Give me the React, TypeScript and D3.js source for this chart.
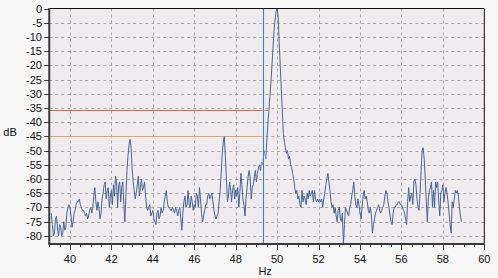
import React from "react";
import * as d3 from "d3";

// Spectrum samples, 0.05 Hz apart, split in segments (start frequency + dB values)
const seg1Start = 39.1;
const seg1 = [
  -72, -76, -80, -79, -74, -73, -78, -80, -76, -77, -80, -79, -75, -78, -77, -72, -70, -69, -70,
  -73, -77, -75, -72, -71, -69, -68, -68, -67, -69, -70, -71, -71, -72, -73, -72, -74, -73, -71, -70,
  -72, -70, -66, -63, -68, -71, -68, -70, -74, -72, -67, -65, -62, -61, -67, -64, -63, -70, -66, -64,
  -69, -62, -66, -59, -61, -70, -62, -61, -68, -63, -61, -69, -75, -66, -57, -52, -48, -46, -49, -56,
  -61, -64, -67, -65,
];
const seg2Start = 43.25;
const seg2 = [
  -62, -59, -66, -63, -60, -64, -63, -61, -66, -70, -71, -70, -69, -73, -72, -71, -74, -75, -76, -72,
  -71, -74, -73, -70, -72, -71, -68, -66, -64, -68, -70, -70, -71, -71, -70, -71, -72, -70, -71, -73,
  -71, -70, -74, -78, -72, -68, -66, -70, -69, -64, -69, -70, -66, -68, -71, -69, -70, -65, -66, -70,
  -63, -67, -72, -75, -73, -71, -69, -69, -66, -65, -67, -66, -65, -68, -71, -73, -74, -73, -72, -68,
  -64, -58, -51, -47, -45,
];
const seg3Start = 47.5;
const seg3 = [
  -52, -60, -68, -66, -61, -63, -68, -64, -62, -67, -64, -66, -63, -70, -65, -58, -62, -67, -69, -73,
  -67, -63, -59, -57, -60, -67, -63, -62, -59, -57, -61, -58, -56, -55, -57, -54, -55, -52, -50, -53,
  -47, -41, -36, -31, -26, -20, -14, -8, -4, -1, 0, -3, -12, -20, -28, -36, -44, -47, -49, -51,
  -50, -53, -52, -55, -56, -58, -60, -63, -65, -64, -67, -66, -69, -70, -64, -68, -66, -67, -69, -65,
  -67, -64, -66, -65,
];
const seg4Start = 51.7;
const seg4 = [
  -64, -68, -64, -67, -68, -67, -68, -67, -68, -67, -70, -67, -65, -62, -60, -58, -61, -64, -68, -70,
  -69, -72, -70, -73, -75, -71, -70, -74, -75, -72, -83, -76, -70, -71, -72, -73, -70, -69, -66, -64,
  -61, -66, -69, -70, -67, -69, -72, -74, -70, -66, -64, -67, -66, -68, -71, -72, -70, -73, -79, -76,
  -74, -72, -71, -70, -69, -71, -72, -71, -70, -69, -66, -64, -65, -68, -70, -73, -75,
];
const seg5Start = 55.55;
const seg5 = [
  -76, -72, -70, -70, -69, -69, -68, -68, -69, -69, -70, -71, -72, -74, -76, -68, -63, -68, -66, -65,
  -69, -61, -60, -62, -67, -70, -71, -65, -57, -50, -49, -53, -60, -68, -75, -67, -64, -63, -61, -70,
  -64, -70, -61, -63, -61, -68, -73, -65, -64, -62, -68, -65, -63, -65, -68, -72, -76, -79, -68, -70,
  -67, -64, -65, -64, -66, -70, -73, -75,
];
const sampleStep = 0.05;

// Marker lines
const cursorHz = 49.32;
const levelRed = -35.7;
const levelRedEndHz = 49.57;
const levelOrange = -45;
const levelOrangeEndHz = 49.32;

const xTicks = [40, 42, 44, 46, 48, 50, 52, 54, 56, 58, 60];
const yTicks = [0, -5, -10, -15, -20, -25, -30, -35, -40, -45, -50, -55, -60, -65, -70, -75, -80];

const W = 498;
const H = 278;
const L = 49.25;
const R = 484.3;
const T = 8.5;
const B = 243;

export default function App() {
  const x = d3.scaleLinear().domain([39, 60]).range([L, R]);
  const y = d3.scaleLinear().domain([-82.5, 0]).range([B, T]);

  const segments: [number, number[]][] = [
    [seg1Start, seg1],
    [seg2Start, seg2],
    [seg3Start, seg3],
    [seg4Start, seg4],
    [seg5Start, seg5],
  ];
  const pts: [number, number][] = [];
  segments.forEach(([s, vals]) => vals.forEach((v, i) => pts.push([s + i * sampleStep, v])));

  const line = d3
    .line<[number, number]>()
    .x((d) => x(d[0]))
    .y((d) => y(d[1]));

  const minorTicks = d3.range(39, 60.001, 0.5);
  const font = "'Liberation Sans', Arial, sans-serif";

  return (
    <svg
      width={W}
      height={H}
      style={{ position: "fixed", left: 0, top: 0, background: "#f6f6f6" }}
      fontFamily={font}
    >
      <defs>
        <clipPath id="plotclip">
          <rect x={L} y={T} width={R - L} height={B - T} />
        </clipPath>
      </defs>
      <rect x={L} y={T} width={R - L} height={B - T} fill="#efebef" />
      {/* grid */}
      {yTicks.filter((t) => t !== 0).map((t) => (
        <line key={"gy" + t} x1={L} x2={R} y1={Math.round(y(t)) + 0.5} y2={Math.round(y(t)) + 0.5}
          stroke="#a8a8a8" strokeDasharray="3,3" strokeWidth={1} />
      ))}
      {xTicks.filter((t) => t !== 60).map((t) => (
        <line key={"gx" + t} x1={Math.round(x(t)) + 0.5} x2={Math.round(x(t)) + 0.5} y1={T} y2={B}
          stroke="#a8a8a8" strokeDasharray="3,3" strokeWidth={1} />
      ))}
      {/* level lines */}
      <line x1={L} x2={x(levelRedEndHz)} y1={Math.round(y(levelRed)) + 0.5} y2={Math.round(y(levelRed)) + 0.5}
        stroke="#d8674a" strokeWidth={1} />
      <line x1={L} x2={x(levelOrangeEndHz)} y1={Math.round(y(levelOrange)) + 0.5} y2={Math.round(y(levelOrange)) + 0.5}
        stroke="#e8a064" strokeWidth={1} />
      {/* spectrum */}
      <path d={line(pts) ?? ""} fill="none" stroke="#4a6392" strokeWidth={1} clipPath="url(#plotclip)" />
      {/* cursor */}
      <line x1={Math.round(x(cursorHz)) + 0.5} x2={Math.round(x(cursorHz)) + 0.5} y1={T} y2={B}
        stroke="#dbe6f2" strokeWidth={5} opacity={0.4} />
      <line x1={Math.round(x(cursorHz)) + 0.5} x2={Math.round(x(cursorHz)) + 0.5} y1={T} y2={B}
        stroke="#4f7ea3" strokeWidth={1} />
      {/* border */}
      <line x1={L} x2={R} y1={T} y2={T} stroke="#111" strokeWidth={1} />
      <line x1={R} x2={R} y1={T} y2={B} stroke="#111" strokeWidth={1} />
      {/* axes */}
      <line x1={L} x2={L} y1={T - 0.5} y2={B + 1} stroke="#3a3a3a" strokeWidth={2} />
      <line x1={L - 1} x2={R + 0.5} y1={B + 1} y2={B + 1} stroke="#3a3a3a" strokeWidth={2} />
      {yTicks.map((t) => (
        <g key={"yt" + t}>
          <line x1={L - 5} x2={L} y1={Math.round(y(t)) + 0.5} y2={Math.round(y(t)) + 0.5} stroke="#3a3a3a" />
          <text x={42} y={y(t) + 4} textAnchor="end" fontSize={11} fill="#111">{t}</text>
        </g>
      ))}
      {minorTicks.map((t) => (
        <line key={"mt" + t} x1={Math.round(x(t)) + 0.5} x2={Math.round(x(t)) + 0.5} y1={B + 1} y2={B + 4}
          stroke="#3a3a3a" />
      ))}
      {xTicks.map((t) => (
        <g key={"xt" + t}>
          <line x1={Math.round(x(t)) + 0.5} x2={Math.round(x(t)) + 0.5} y1={B + 1} y2={B + 7} stroke="#3a3a3a" />
          <text x={x(t)} y={263} textAnchor="middle" fontSize={11} fill="#111">{t}</text>
        </g>
      ))}
      <text x={x(50) - 12} y={275} textAnchor="middle" fontSize={11} fill="#111">Hz</text>
      <text x={10} y={136} textAnchor="middle" fontSize={11} fill="#111">dB</text>
    </svg>
  );
}
